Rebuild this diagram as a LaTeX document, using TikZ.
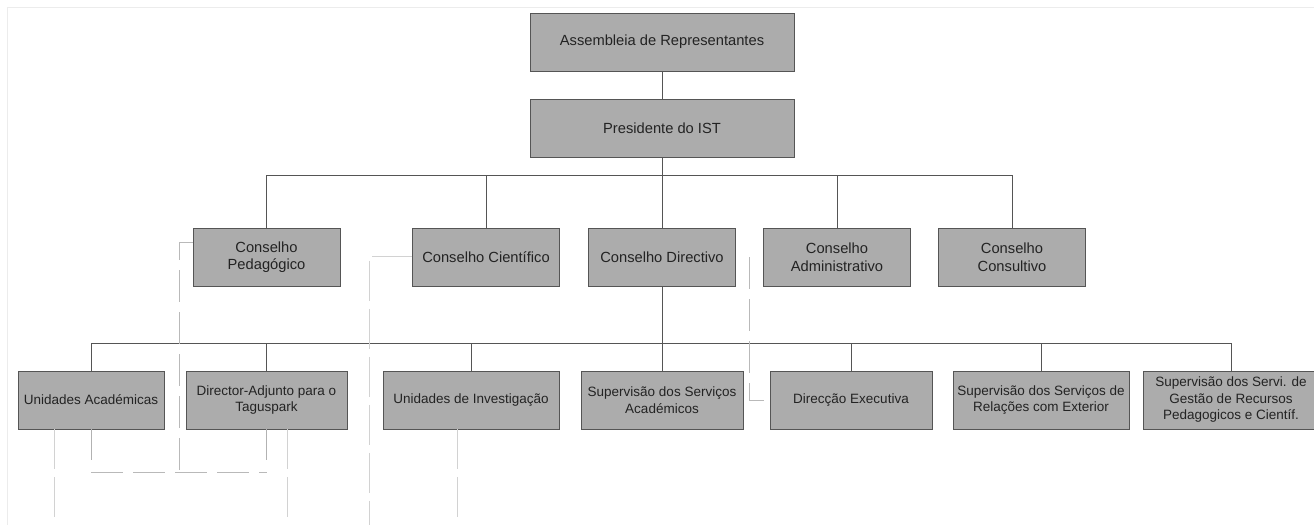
\documentclass[tikz,border=0pt]{standalone}
\usepackage{fontspec}
\setmainfont{Liberation Sans}
\usepackage{tikz}
\definecolor{boxgray}{RGB}{172,172,172}
\definecolor{edgegray}{RGB}{85,85,85}
\definecolor{textgray}{RGB}{35,35,35}

\begin{document}
\begin{tikzpicture}[x=1pt,y=-1pt,
  box/.style={draw=edgegray,fill=boxgray,line width=0.9pt,minimum width=#1,minimum height=58pt,inner sep=2pt,align=center,text=textgray,font=\fontsize{14.7}{17.6}\selectfont},
  box/.default=147pt,
  unit/.style={box=#1,font=\fontsize{13.5}{16.5}\selectfont},
  link/.style={draw=edgegray,line width=0.9pt},
  faint/.style={draw=gray!55,line width=0.9pt,dash pattern=on 32pt off 10pt},
  trace/.style={draw=gray!35,line width=0.9pt,dash pattern=on 40pt off 8pt}]
\useasboundingbox (0,0) rectangle (1314,525);
\draw[gray!15] (7,525) -- (7,7) -- (1314,7);

\node[box=264pt] (ar) at (662,42) {Assembleia de Representantes};
\node[box=264pt] (pres) at (662,128) {Presidente do IST};

\node[box] (cp) at (266.5,257) {Conselho\\Pedagógico};
\node[box] (cc) at (486,257) {Conselho Científico};
\node[box] (cd) at (662,257) {Conselho Directivo};
\node[box] (ca) at (837,257) {Conselho\\Administrativo};
\node[box] (cons) at (1012,257) {Conselho\\Consultivo};

\node[unit=146pt] (ua) at (91,400) {Unidades Académicas};
\node[unit=161pt] (da) at (266.5,400) {Director-Adjunto para o\\Taguspark};
\node[unit=176pt] (ui) at (471,400) {Unidades de Investigação};
\node[unit=162pt] (ssa) at (662,400) {Supervisão dos Serviços\\Académicos};
\node[unit=162pt] (de) at (851,400) {Direcção Executiva};
\node[unit=176pt] (sre) at (1041,400) {Supervisão dos Serviços de\\Relações com Exterior};
\node[unit=176pt] (sg) at (1231,400) {Supervisão dos Servi. de\\Gestão de Recursos\\Pedagogicos e Científ.};

% hierarchy
\draw[link] (ar) -- (pres);
\coordinate (bus1) at (662,175);
\draw[link] (pres) -- (bus1);
\draw[link] (cp.north |- bus1) -- (cons.north |- bus1);
\foreach \n in {cp,cc,cd,ca,cons}
  \draw[link] (\n.north |- bus1) -- (\n.north);
\coordinate (bus2) at (662,343);
\draw[link] (cd) -- (bus2);
\draw[link] (ua.north |- bus2) -- (sg.north |- bus2);
\foreach \n in {ua,da,ui,ssa,de,sre,sg}
  \draw[link] (\n.north |- bus2) -- (\n.north);

% dashed links
\coordinate (p1) at (179,472);
\coordinate (p2) at (91,472);
\coordinate (p3) at (266.5,472);
\draw[faint] ([yshift=15pt]cp.west) -| (p1);
\draw[faint] (p2) -- (p3);
\draw[link,draw=gray!60] (ua.south) -- ++(0,31);
\draw[link,draw=gray!60] (da.south) -- ++(0,31);
\coordinate (t5) at (749,257);
\draw[faint] (t5) |- (de.west);

\coordinate (t1) at (54,525);
\coordinate (t2) at (287,525);
\coordinate (t3) at (369,525);
\coordinate (t4) at (457,525);
\draw[trace] (ua.south -| t1) -- (t1);
\draw[trace] (da.south -| t2) -- (t2);
\draw[trace] ([yshift=1pt]cc.west) -| (t3);
\draw[trace] (ui.south -| t4) -- (t4);
\end{tikzpicture}
\end{document}
